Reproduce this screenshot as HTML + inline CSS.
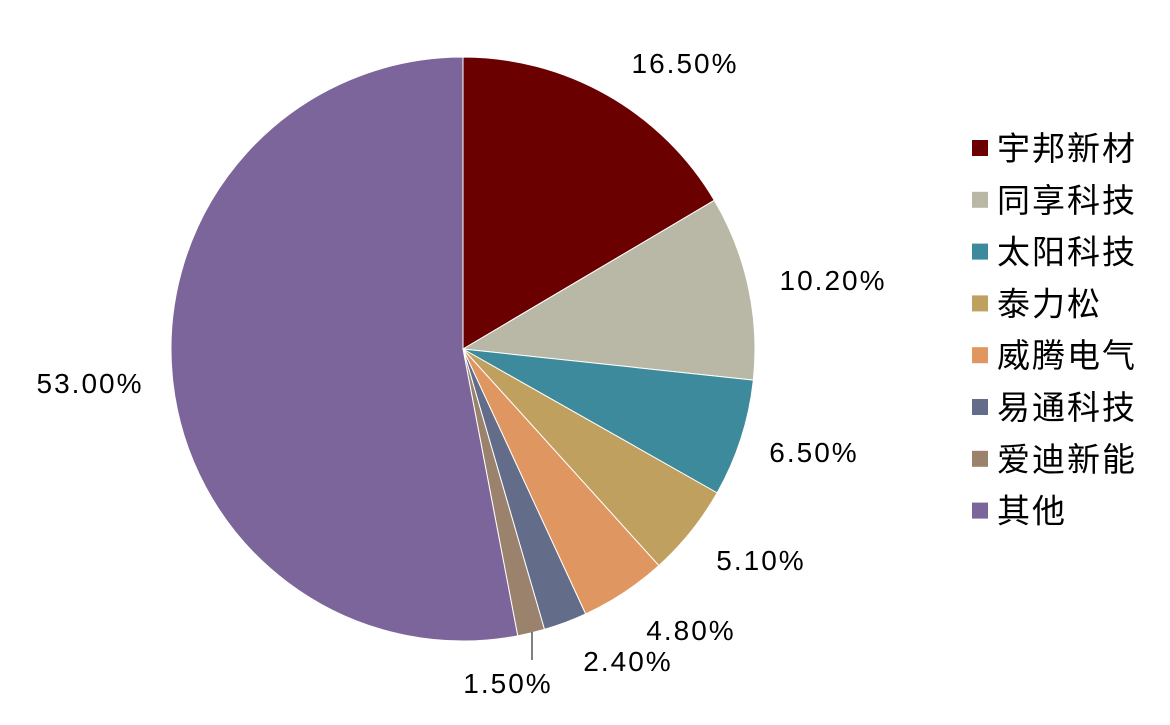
<!DOCTYPE html>
<html><head><meta charset="utf-8"><style>
body{margin:0;background:#fff;}
svg text{font-family:"Liberation Sans","Noto Sans CJK SC",sans-serif;fill:#000;}
</style></head><body>
<svg id="s" width="1170" height="720" viewBox="0 0 1170 720" xmlns="http://www.w3.org/2000/svg">
<g id="pie"></g>
<line x1="532" y1="632" x2="532" y2="660" stroke="#000" stroke-width="1"/>
<g font-size="28" text-anchor="middle" letter-spacing="2">
<text x="685" y="73">16.50%</text>
<text x="833" y="290">10.20%</text>
<text x="814" y="462">6.50%</text>
<text x="761" y="570">5.10%</text>
<text x="691" y="640">4.80%</text>
<text x="628" y="671">2.40%</text>
<text x="508" y="693">1.50%</text>
<text x="90" y="393">53.00%</text>
</g>
<g id="leg" font-size="33" letter-spacing="2"></g>
</svg>
<script>
var d=[16.5,10.2,6.5,5.1,4.8,2.4,1.5,53.0];
var c=["#6B0000","#B9B8A6","#3C8A9C","#C0A05E","#E09660","#636C89","#9B826C","#7C659A"];
var n=["宇邦新材","同享科技","太阳科技","泰力松","威腾电气","易通科技","爱迪新能","其他"];
var cx=463,cy=349,r=292,a=0,h="";
for(var i=0;i<d.length;i++){
 var a2=a+d[i]/100*2*Math.PI;
 var x1=cx+r*Math.sin(a),y1=cy-r*Math.cos(a),x2=cx+r*Math.sin(a2),y2=cy-r*Math.cos(a2);
 h+='<path d="M'+cx+','+cy+'L'+x1+','+y1+'A'+r+','+r+' 0 '+((a2-a)>Math.PI?1:0)+' 1 '+x2+','+y2+'Z" fill="'+c[i]+'" stroke="#fff" stroke-width="1"/>';
 a=a2;
}
document.getElementById('pie').innerHTML=h;
var l="";
for(var i=0;i<8;i++){var y=148+i*51.8;
 l+='<rect x="972" y="'+(y-8)+'" width="16" height="16" fill="'+c[i]+'"/><text x="997" y="'+(y+12)+'">'+n[i]+'</text>';}
document.getElementById('leg').innerHTML=l;
</script>
</body></html>
